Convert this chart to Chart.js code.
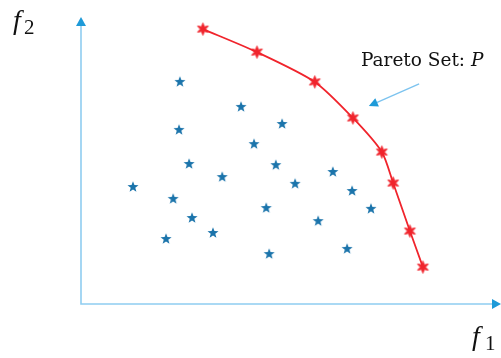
<!DOCTYPE html>
<html>
<head>
<meta charset="utf-8">
<script src="https://cdn.jsdelivr.net/npm/chart.js@4/dist/chart.umd.min.js"></script>
<style>
  html, body { margin: 0; padding: 0; background: #fff; }
  canvas { display: block; }
</style>
</head>
<body>
<canvas id="c" width="501" height="358"></canvas>
<script>
// Objective space: f1 on the horizontal axis, f2 on the vertical axis (0..100 each)
const solutionsF1 = [23.6, 38.2, 23.4, 48.0, 41.3, 25.8, 46.5, 33.7, 51.1, 12.4, 22.0,
                     44.2, 26.5, 31.5, 20.3, 44.9, 56.6, 60.1, 64.7, 69.2, 63.5];
const solutionsF2 = [78.2, 69.4, 61.3, 63.4, 56.3, 49.3, 48.9, 44.7, 42.3, 41.2, 37.0,
                     33.8, 30.3, 25.0, 22.9, 17.6, 29.2, 46.5, 39.8, 33.5, 19.4];
const paretoF1 = [29.1, 42.0, 55.8, 64.9, 71.8, 74.5, 78.5, 81.6];
const paretoF2 = [96.8, 88.7, 78.2, 65.5, 53.5, 42.6, 25.7, 13.0];
const paretoLabel = 'Pareto Set: ';
const paretoSymbol = 'P';
const labelPos = { x: 66.8, y: 83.8 };
const arrowFrom = { x: 80.7, y: 77.5 };
const arrowTo = { x: 68.7, y: 69.7 };

function starCanvas(points, outer, inner, fill, stroke) {
  const size = Math.ceil(outer * 2 + 4);
  const cv = document.createElement('canvas');
  cv.width = size; cv.height = size;
  const g = cv.getContext('2d');
  const c = size / 2;
  g.beginPath();
  for (let i = 0; i < points * 2; i++) {
    const r = i % 2 === 0 ? outer : inner;
    const a = -Math.PI / 2 + i * Math.PI / points;
    const px = c + r * Math.cos(a), py = c + r * Math.sin(a);
    if (i === 0) g.moveTo(px, py); else g.lineTo(px, py);
  }
  g.closePath();
  g.fillStyle = fill;
  g.fill();
  if (stroke) { g.strokeStyle = stroke; g.lineWidth = 1; g.stroke(); }
  return cv;
}

const blueStar = starCanvas(5, 5.8, 2.4, '#1b74ab');
const redStar = starCanvas(6, 6.2, 2.6, '#f0242c', '#f0242c');

function arrowHead(ctx, x1, y1, x2, y2, len, half, color) {
  const a = Math.atan2(y2 - y1, x2 - x1);
  ctx.beginPath();
  ctx.moveTo(x2, y2);
  ctx.lineTo(x2 - len * Math.cos(a) + half * Math.sin(a), y2 - len * Math.sin(a) - half * Math.cos(a));
  ctx.lineTo(x2 - len * Math.cos(a) - half * Math.sin(a), y2 - len * Math.sin(a) + half * Math.cos(a));
  ctx.closePath();
  ctx.fillStyle = color;
  ctx.fill();
}

const decorations = {
  id: 'decorations',
  beforeDatasetsDraw(chart) {
    const { ctx, chartArea: a } = chart;
    ctx.save();
    // axes with arrow heads
    ctx.strokeStyle = '#8fcdf1';
    ctx.lineWidth = 1.6;
    ctx.beginPath();
    ctx.moveTo(a.left, a.top);
    ctx.lineTo(a.left, a.bottom);
    ctx.lineTo(a.right - 4, a.bottom);
    ctx.stroke();
    arrowHead(ctx, a.left, a.bottom, a.left, a.top - 3, 9, 5, '#1e9ad8');
    arrowHead(ctx, a.left, a.bottom, a.right + 1, a.bottom, 9, 5, '#1e9ad8');
    ctx.restore();
  },
  afterDatasetsDraw(chart) {
    const { ctx, scales: { x, y } } = chart;
    ctx.save();
    ctx.fillStyle = '#111';
    ctx.textBaseline = 'alphabetic';
    // axis titles
    ctx.font = 'italic 28px "Liberation Serif", "DejaVu Serif", serif';
    ctx.fillText('f', 13, 29);
    ctx.font = '21px "Liberation Serif", "DejaVu Serif", serif';
    ctx.fillText('2', 24, 34);
    ctx.font = 'italic 28px "Liberation Serif", "DejaVu Serif", serif';
    ctx.fillText('f', 472, 345);
    ctx.font = '21px "Liberation Serif", "DejaVu Serif", serif';
    ctx.fillText('1', 485, 350);
    // annotation text
    const tx = x.getPixelForValue(labelPos.x), ty = y.getPixelForValue(labelPos.y);
    ctx.font = '18.5px "DejaVu Serif", "Liberation Serif", serif';
    ctx.fillText(paretoLabel, tx, ty);
    const w = ctx.measureText(paretoLabel).width;
    ctx.font = 'italic 18.5px "DejaVu Serif", "Liberation Serif", serif';
    ctx.fillText(paretoSymbol, tx + w, ty);
    // annotation arrow
    const x1 = x.getPixelForValue(arrowFrom.x), y1 = y.getPixelForValue(arrowFrom.y);
    const x2 = x.getPixelForValue(arrowTo.x), y2 = y.getPixelForValue(arrowTo.y);
    ctx.strokeStyle = '#7cc3ef';
    ctx.lineWidth = 1.3;
    ctx.beginPath();
    ctx.moveTo(x1, y1);
    ctx.lineTo(x2 + (x1 - x2) * 0.12, y2 + (y1 - y2) * 0.12);
    ctx.stroke();
    arrowHead(ctx, x1, y1, x2, y2, 9, 4.5, '#1e9ad8');
    ctx.restore();
  }
};

const toPoints = (xs, ys) => xs.map((v, i) => ({ x: v, y: ys[i] }));

new Chart(document.getElementById('c'), {
  type: 'scatter',
  data: {
    datasets: [
      {
        label: 'solutions',
        data: toPoints(solutionsF1, solutionsF2),
        pointStyle: blueStar,
        showLine: false
      },
      {
        label: 'Pareto set',
        data: toPoints(paretoF1, paretoF2),
        pointStyle: redStar,
        showLine: true,
        borderColor: '#f0242c',
        borderWidth: 1.8,
        tension: 0.25
      }
    ]
  },
  options: {
    responsive: false,
    animation: false,
    devicePixelRatio: 1,
    clip: false,
    layout: { autoPadding: false, padding: { left: 81, right: 1, top: 20, bottom: 54 } },
    plugins: { legend: { display: false }, tooltip: { enabled: false } },
    scales: {
      x: { type: 'linear', min: 0, max: 100, display: false },
      y: { type: 'linear', min: 0, max: 100, display: false }
    }
  },
  plugins: [decorations]
});
</script>
</body>
</html>
